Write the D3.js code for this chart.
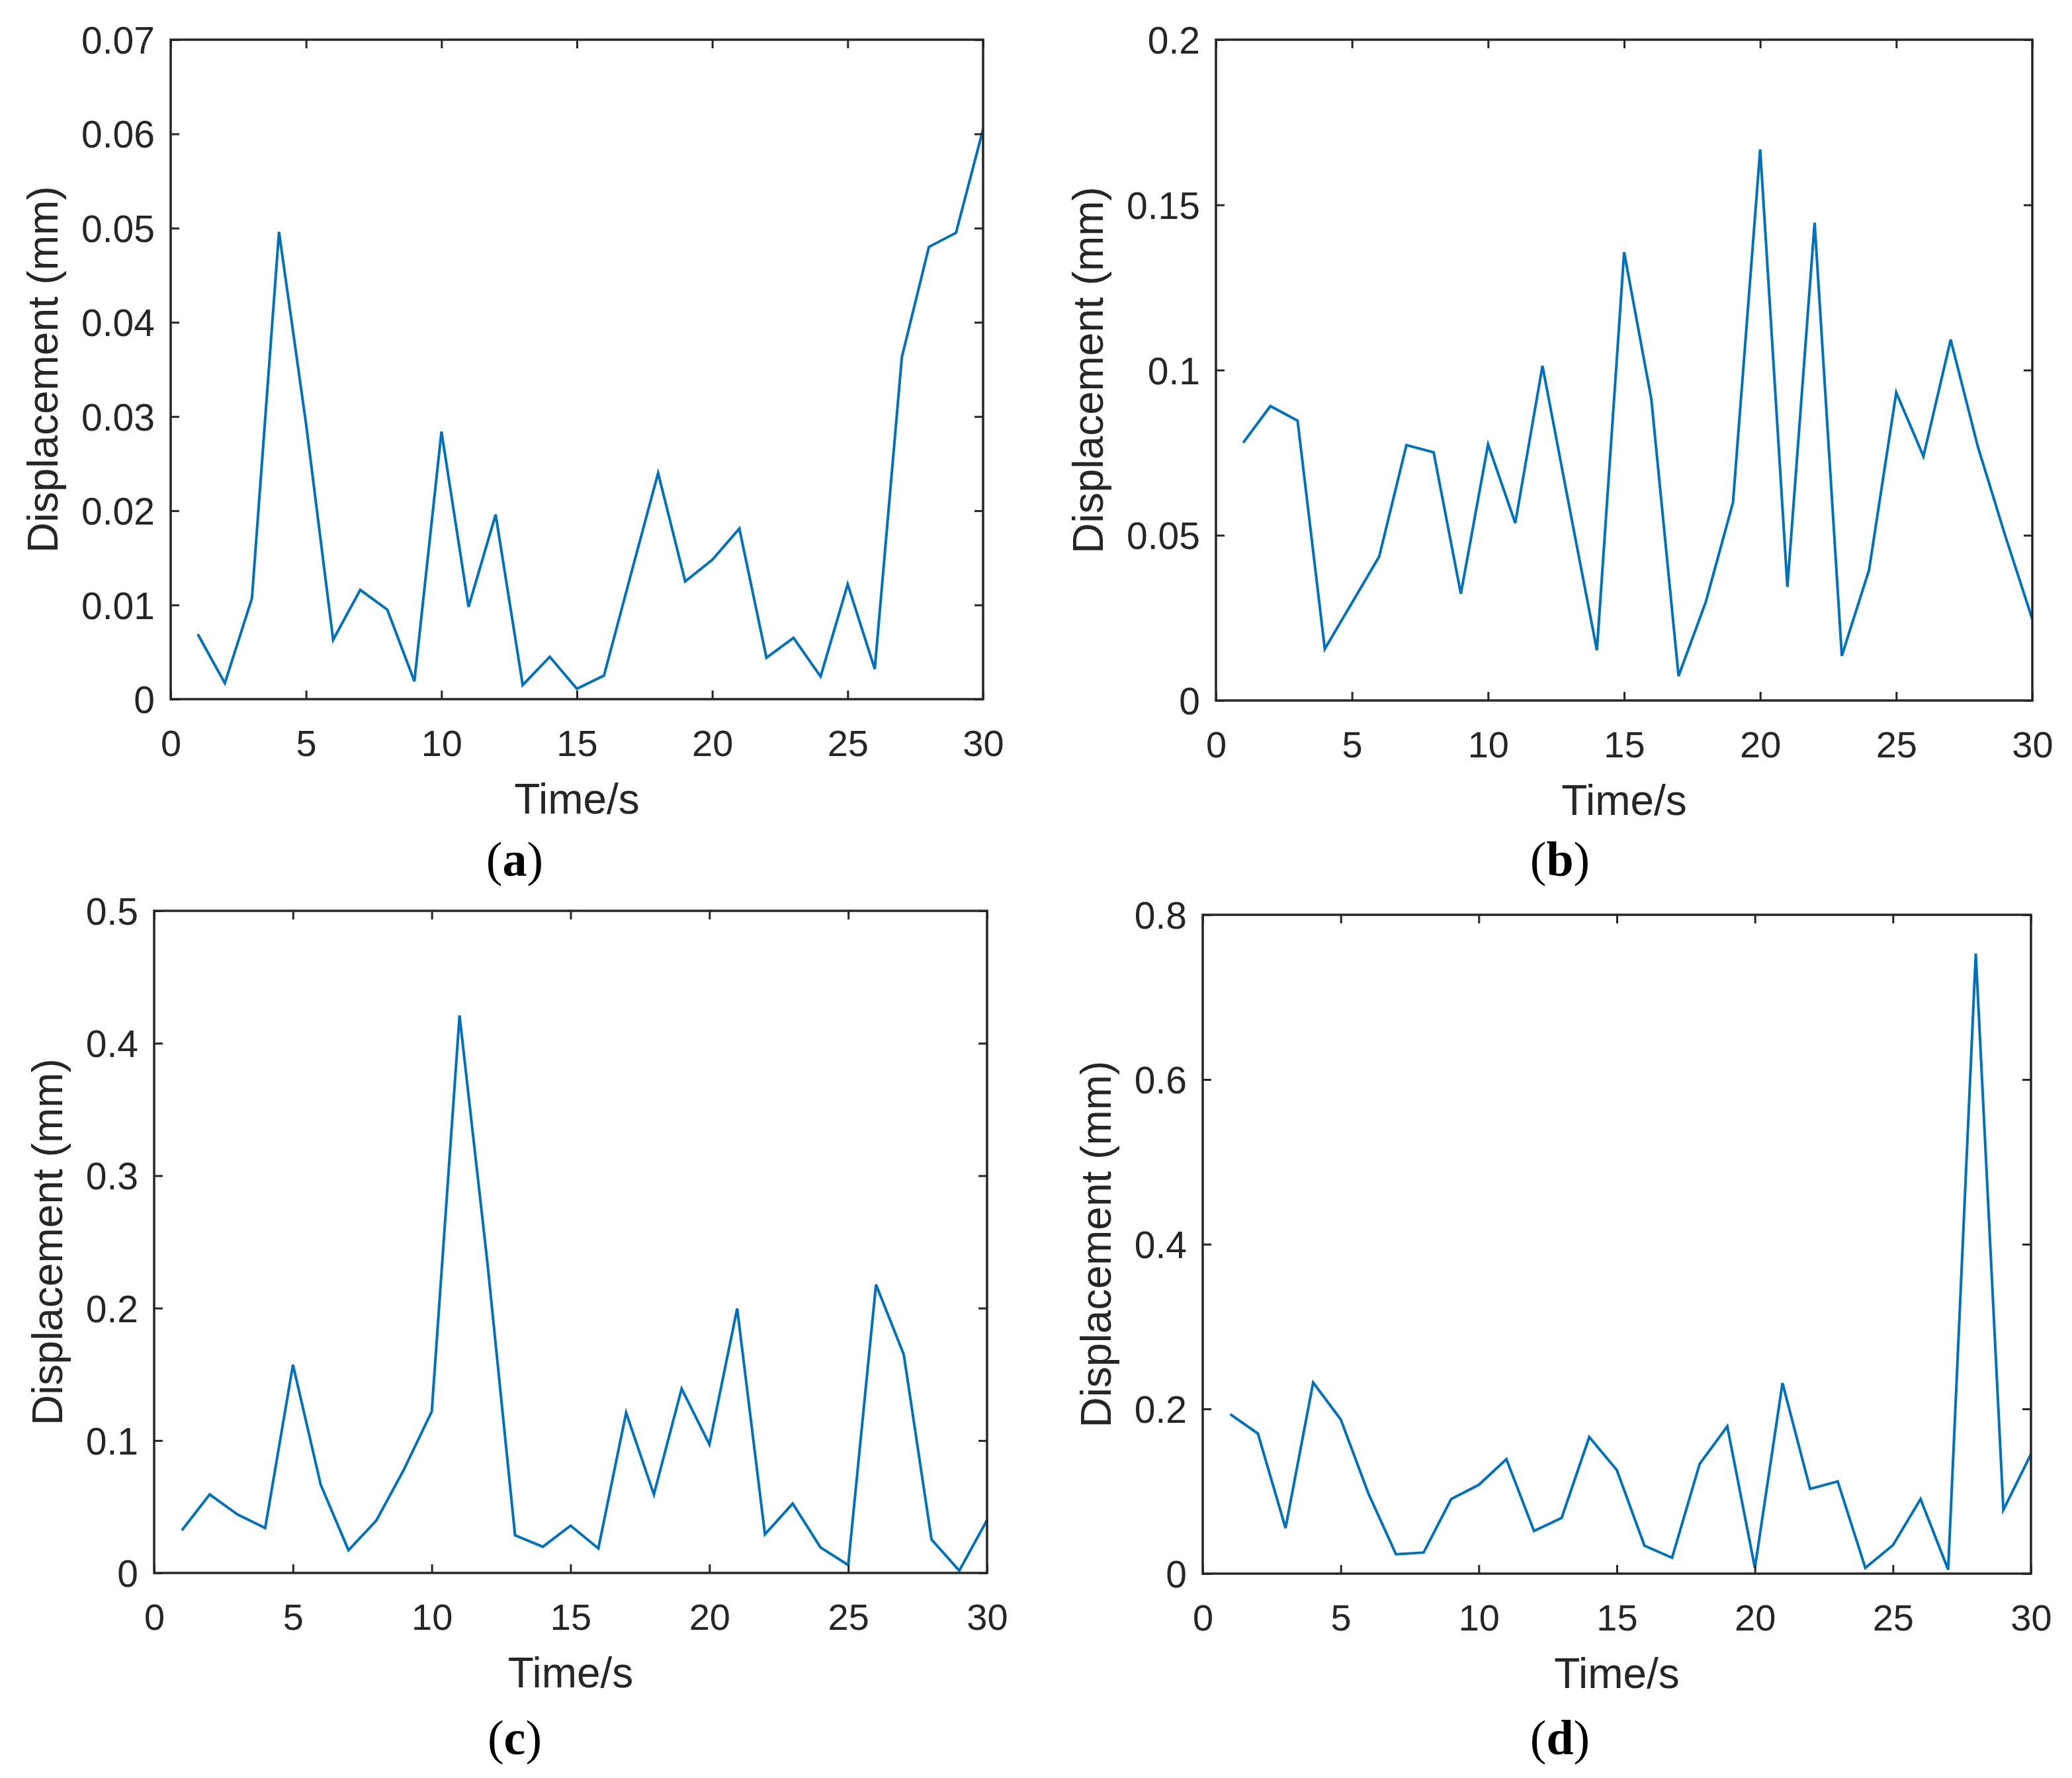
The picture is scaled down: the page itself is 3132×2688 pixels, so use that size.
<!DOCTYPE html>
<html>
<head>
<meta charset="utf-8">
<script src="https://cdn.jsdelivr.net/npm/d3@7"></script>
<style>
  html, body { margin: 0; padding: 0; background: #fff; }
  svg { display: block; }
</style>
</head>
<body>
<div id="chart"></div>
<script>
var time = [1,2,3,4,5,6,7,8,9,10,11,12,13,14,15,16,17,18,19,20,21,22,23,24,25,26,27,28,29,30];

var dispA = [0.0069,0.0017,0.0107,0.0496,0.0292,0.0063,0.0116,0.0095,0.0019,0.0284,
             0.0098,0.0196,0.0015,0.0045,0.0011,0.0025,0.0133,0.0240,0.0125,0.0148,
             0.0181,0.0044,0.0065,0.0024,0.0122,0.0032,0.0363,0.0480,0.0495,0.0605];
var dispB = [0.0780,0.0891,0.0847,0.0156,0.0296,0.0436,0.0773,0.0751,0.0323,0.0775,
             0.0537,0.1013,0.0580,0.0152,0.1357,0.0912,0.0074,0.0298,0.0599,0.1668,
             0.0344,0.1446,0.0135,0.0395,0.0932,0.0739,0.1092,0.0768,0.0500,0.0246];
var dispC = [0.0322,0.0593,0.0442,0.0339,0.1572,0.0666,0.0172,0.0395,0.0782,0.1220,
             0.4210,0.2350,0.0284,0.0198,0.0357,0.0185,0.1211,0.0593,0.1392,0.0971,
             0.1997,0.0292,0.0524,0.0193,0.0060,0.2178,0.1650,0.0253,0.0017,0.0400];
var dispD = [0.1934,0.1700,0.0553,0.2321,0.1872,0.0974,0.0235,0.0256,0.0905,0.1078,
             0.1389,0.0518,0.0677,0.1658,0.1257,0.0339,0.0193,0.1333,0.1789,0.0069,
             0.2314,0.1029,0.1119,0.0069,0.0345,0.0905,0.0048,0.7530,0.0774,0.1450];

var xTicks = [0,5,10,15,20,25,30];
var yTicksA = [0,0.01,0.02,0.03,0.04,0.05,0.06,0.07];
var yLabelsA = ["0","0.01","0.02","0.03","0.04","0.05","0.06","0.07"];
var yTicksB = [0,0.05,0.1,0.15,0.2];
var yLabelsB = ["0","0.05","0.1","0.15","0.2"];
var yTicksC = [0,0.1,0.2,0.3,0.4,0.5];
var yLabelsC = ["0","0.1","0.2","0.3","0.4","0.5"];
var yTicksD = [0,0.2,0.4,0.6,0.8];
var yLabelsD = ["0","0.2","0.4","0.6","0.8"];

var panelTags = ["a","b","c","d"];
var xTitle = "Time/s";
var yTitle = "Displacement (mm)";

var width = 3132,
    height = 2688;

var ink = "#262626",
    lineColor = "#0072BD",
    sansFont = "'Liberation Sans', Arial, sans-serif",
    serifFont = "'Liberation Serif', 'Times New Roman', serif";

var svg = d3.select("#chart").append("svg")
    .attr("width", width)
    .attr("height", height);

var panels = [
    {tag: panelTags[0], values: dispA, yTicks: yTicksA, yLabels: yLabelsA,
     left: 258, right: 1486, top: 60, bottom: 1057, tagX: 778, tagY: 1324},
    {tag: panelTags[1], values: dispB, yTicks: yTicksB, yLabels: yLabelsB,
     left: 1838, right: 3072, top: 60, bottom: 1059, tagX: 2358, tagY: 1324},
    {tag: panelTags[2], values: dispC, yTicks: yTicksC, yLabels: yLabelsC,
     left: 233, right: 1492, top: 1377, bottom: 2378, tagX: 778, tagY: 2652},
    {tag: panelTags[3], values: dispD, yTicks: yTicksD, yLabels: yLabelsD,
     left: 1818, right: 3070, top: 1383, bottom: 2379, tagX: 2358, tagY: 2652}
];

var tickLen = 13;

function drawPanel(p) {
    var w = p.right - p.left,
        h = p.bottom - p.top;

    var x = d3.scaleLinear().domain([0, 30]).range([0, w]);
    var y = d3.scaleLinear()
        .domain([0, p.yTicks[p.yTicks.length - 1]])
        .range([h, 0]);

    var g = svg.append("g")
        .attr("transform", "translate(" + p.left + "," + p.top + ")");

    // data line first so the box sits on top of it
    var line = d3.line()
        .x(function(d, i) { return x(time[i]); })
        .y(function(d) { return y(d); });

    g.append("path")
        .datum(p.values)
        .attr("d", line)
        .attr("fill", "none")
        .attr("stroke", lineColor)
        .attr("stroke-width", 4)
        .attr("stroke-linejoin", "miter");

    // bottom axis with labels, ticks point inward
    var xAxis = g.append("g")
        .attr("transform", "translate(0," + h + ")")
        .call(d3.axisBottom(x).tickValues(xTicks)
            .tickSizeInner(-tickLen).tickSizeOuter(0)
            .tickFormat(function(d) { return String(d); }));

    // top ticks only
    var xTop = g.append("g")
        .call(d3.axisTop(x).tickValues(xTicks)
            .tickSizeInner(-tickLen).tickSizeOuter(0)
            .tickFormat(""));

    var yAxis = g.append("g")
        .call(d3.axisLeft(y).tickValues(p.yTicks)
            .tickSizeInner(-tickLen).tickSizeOuter(0)
            .tickFormat(function(d, i) { return p.yLabels[i]; }));

    var yRight = g.append("g")
        .attr("transform", "translate(" + w + ",0)")
        .call(d3.axisRight(y).tickValues(p.yTicks)
            .tickSizeInner(-tickLen).tickSizeOuter(0)
            .tickFormat(""));

    [xAxis, xTop, yAxis, yRight].forEach(function(a) {
        a.select(".domain").remove();
        a.selectAll(".tick line")
            .attr("stroke", ink)
            .attr("stroke-width", 3);
    });

    xAxis.selectAll(".tick text")
        .attr("y", 86)
        .attr("dy", null)
        .attr("fill", ink)
        .style("font-family", sansFont)
        .style("font-size", "56px");

    yAxis.selectAll(".tick text")
        .attr("x", -24)
        .attr("dy", "0.36em")
        .attr("fill", ink)
        .style("font-family", sansFont)
        .style("font-size", "57px");

    // box
    g.append("rect")
        .attr("width", w)
        .attr("height", h)
        .attr("fill", "none")
        .attr("stroke", ink)
        .attr("stroke-width", 3.5);

    // y title sits just left of the widest tick label
    var minX = 0;
    yAxis.selectAll(".tick text").each(function() {
        minX = Math.min(minX, this.getBBox().x);
    });

    g.append("text")
        .attr("transform", "translate(" + (minX - 36) + "," + (h / 2) + ") rotate(-90)")
        .attr("text-anchor", "middle")
        .attr("fill", ink)
        .style("font-family", sansFont)
        .style("font-size", "64px")
        .text(yTitle);

    g.append("text")
        .attr("x", w / 2)
        .attr("y", h + 173)
        .attr("text-anchor", "middle")
        .attr("fill", ink)
        .style("font-family", sansFont)
        .style("font-size", "64px")
        .text(xTitle);

    // panel tag, bold letter in plain parentheses
    var tag = svg.append("text")
        .attr("x", p.tagX)
        .attr("y", p.tagY)
        .attr("text-anchor", "middle")
        .attr("fill", "#000")
        .style("font-family", serifFont)
        .style("font-size", "74px");
    tag.append("tspan").text("(");
    tag.append("tspan").style("font-weight", "bold").text(p.tag);
    tag.append("tspan").text(")");
}

panels.forEach(drawPanel);
</script>
</body>
</html>
